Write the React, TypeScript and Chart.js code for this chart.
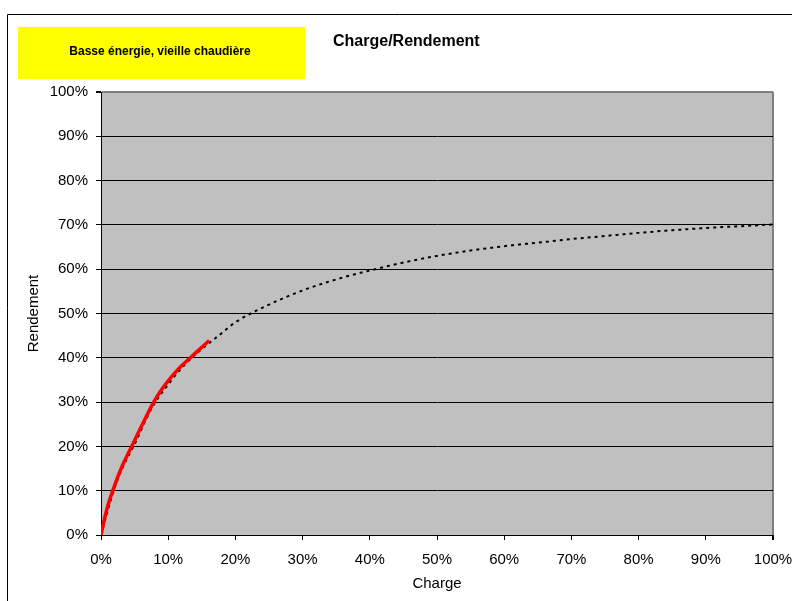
import React, { useEffect, useRef } from "react";
import { Chart, registerables } from "chart.js";

Chart.register(...registerables);

// Courbe théorique (pointillés noirs)
const chargeCourbe = [0, 1, 2, 3, 5, 7.5, 10, 12.5, 15, 17.5, 20, 25, 30, 35, 40, 45, 50, 55, 60, 65, 70, 75, 80, 85, 90, 95, 100];
const rendementCourbe = [0, 5.5, 10.5, 14.5, 20.5, 28.5, 34, 38.5, 42, 45, 48, 52, 55.2, 57.7, 59.7, 61.5, 63, 64.2, 65.2, 66, 66.8, 67.5, 68.2, 68.8, 69.3, 69.7, 70.1];

// Zone de fonctionnement (trait rouge)
const chargeRouge = [0, 0.5, 1, 1.8, 3, 4.6, 6, 7.8, 9, 10, 11, 12, 13.5, 15, 16.1];
const rendementRouge = [0, 3.5, 6.5, 10.2, 15, 20.1, 24.5, 29.9, 32.8, 34.8, 36.6, 38.2, 40.3, 42.4, 43.9];

const axisTicks = [0, 10, 20, 30, 40, 50, 60, 70, 80, 90, 100];

const W = 792;
const H = 601;
const FONT = '"Liberation Sans", Arial, sans-serif';

export default function App() {
  const ref = useRef<HTMLCanvasElement>(null);

  useEffect(() => {
    if (!ref.current) return;
    Chart.defaults.font.family = FONT;

    const decor = {
      id: "decor",
      beforeDraw(chart: any) {
        const { ctx, chartArea: a } = chart;
        ctx.save();
        ctx.fillStyle = "#C0C0C0";
        ctx.fillRect(a.left, a.top, a.right - a.left, a.bottom - a.top);
        // outer frame
        ctx.strokeStyle = "#000";
        ctx.lineWidth = 1;
        ctx.beginPath();
        ctx.moveTo(7.5, H);
        ctx.lineTo(7.5, 14.5);
        ctx.lineTo(W, 14.5);
        ctx.stroke();
        // yellow label box
        ctx.fillStyle = "#FFFF00";
        ctx.fillRect(18, 27, 287, 52);
        ctx.fillStyle = "#000";
        ctx.font = `bold 12px ${FONT}`;
        ctx.textAlign = "center";
        ctx.textBaseline = "middle";
        ctx.fillText("Basse énergie, vieille chaudière", 160, 52);
        // title
        ctx.font = `bold 16px ${FONT}`;
        ctx.textAlign = "left";
        ctx.fillText("Charge/Rendement", 333, 42);
        ctx.restore();
      },
    };

    const chart = new Chart(ref.current, {
      type: "line",
      data: {
        datasets: [
          {
            label: "Mesure",
            data: chargeRouge.map((x, i) => ({ x, y: rendementRouge[i] })),
            borderColor: "#FF0000",
            borderWidth: 3.5,
            pointRadius: 0,
            cubicInterpolationMode: "monotone",
            fill: false,
          },
          {
            label: "Courbe",
            data: chargeCourbe.map((x, i) => ({ x, y: rendementCourbe[i] })),
            borderColor: "#000000",
            borderWidth: 2,
            borderDash: [3, 4],
            pointRadius: 0,
            cubicInterpolationMode: "monotone",
            fill: false,
          },
        ],
      },
      options: {
        responsive: false,
        animation: false,
        devicePixelRatio: 1,
        layout: { padding: { top: 92, right: 19, left: 0, bottom: 0 } },
        plugins: {
          legend: { display: false },
          tooltip: { enabled: false },
          title: { display: false },
        },
        scales: {
          x: {
            type: "linear",
            min: 0,
            max: 100,
            afterFit: (s: any) => {
              s.height = 66;
              s.paddingLeft = 0;
              s.paddingRight = 0;
            },
            afterBuildTicks: (s: any) => {
              s.ticks = axisTicks.map((v) => ({ value: v }));
            },
            ticks: {
              callback: (v: any) => v + "%",
              color: "#000",
              font: { size: 15 },
              padding: 11,
              maxRotation: 0,
              autoSkip: false,
            },
            grid: {
              color: (c: any) => (c.tick && c.tick.value === 100 ? "#808080" : "rgba(0,0,0,0)"),
              lineWidth: (c: any) => (c.tick && c.tick.value === 100 ? 2 : 1),
              tickColor: "#000",
              tickLength: 5,
            },
            border: { color: "#000", width: 1 },
            title: {
              display: true,
              text: "Charge",
              color: "#000",
              font: { size: 15 },
              padding: { top: 0, bottom: 8 },
            },
          },
          y: {
            min: 0,
            max: 100,
            afterFit: (s: any) => {
              s.width = 101;
              s.paddingTop = 0;
              s.paddingBottom = 0;
            },
            afterBuildTicks: (s: any) => {
              s.ticks = axisTicks.map((v) => ({ value: v }));
            },
            ticks: {
              callback: (v: any) => v + "%",
              color: "#000",
              font: { size: 15 },
              padding: 8,
            },
            grid: {
              color: (c: any) => (c.tick && c.tick.value === 100 ? "#808080" : "#000"),
              lineWidth: (c: any) => (c.tick && c.tick.value === 100 ? 2 : 1),
              tickColor: "#000",
              tickLength: 5,
            },
            border: { color: "#000", width: 1 },
            title: {
              display: true,
              text: "Rendement",
              color: "#000",
              font: { size: 15 },
              padding: { top: 25, bottom: 0 },
            },
          },
        },
      },
      plugins: [decor],
    } as any);

    return () => chart.destroy();
  }, []);

  return (
    <canvas
      ref={ref}
      width={W}
      height={H}
      style={{ display: "block", position: "absolute", left: 0, top: 0, width: W, height: H }}
    />
  );
}
